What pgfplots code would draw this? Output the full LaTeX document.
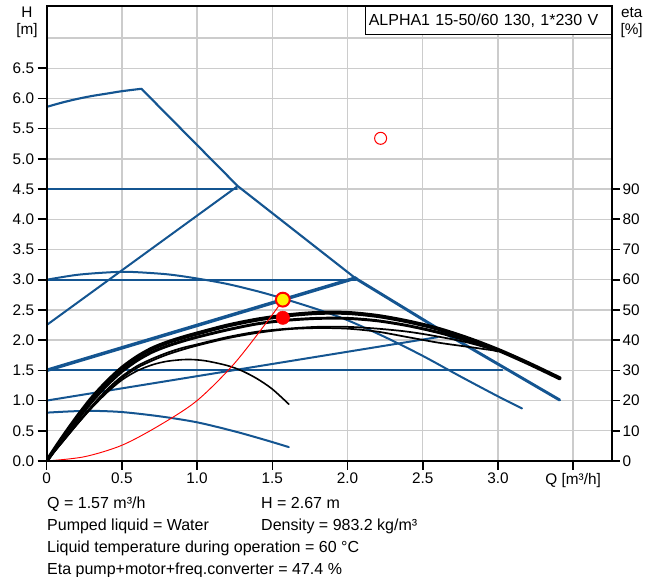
\documentclass[border=0pt]{standalone}
\usepackage{fontspec}
\setmainfont{Liberation Sans}
\usepackage{pgfplots}
\pgfplotsset{compat=1.18}
\definecolor{gfblue}{RGB}{20,85,145}

\begin{document}
\begin{tikzpicture}
\path[use as bounding box] (-35pt,-87pt) rectangle (455.5pt,345.75pt);
\begin{axis}[
  name=main, at={(0pt,0pt)}, anchor=south west,
  scale only axis, width=423.75pt, height=341.25pt,
  xmin=0, xmax=3.756, ymin=0, ymax=7.53,
  xtick={0,0.5,1,1.5,2,2.5,3,3.5},
  xticklabels={0,0.5,1.0,1.5,2.0,2.5,3.0,{Q [m³/h]}},
  ytick={0,0.5,1,1.5,2,2.5,3,3.5,4,4.5,5,5.5,6,6.5},
  yticklabels={0.0,0.5,1.0,1.5,2.0,2.5,3.0,3.5,4.0,4.5,5.0,5.5,6.0,6.5},
  extra y ticks={7}, extra y tick labels={},
  extra y tick style={major tick length=0pt},
  xtick pos=left, ytick pos=left, tick align=outside,
  major tick length=6.75pt,
  grid=major, major grid style={line width=1pt, color=gray!40},
  axis line style={line width=1.5pt},
  every tick/.style={black, line width=1.2pt},
  tick label style={font=\fontsize{11.5}{13}\selectfont},
  yticklabel style={inner xsep=2.5pt},
  xticklabel style={inner ysep=2pt},
  every axis plot/.append style={line join=round, line cap=round},
]
% blue: max curve
\addplot[gfblue, line width=1.6pt, smooth] coordinates {(0,5.86) (0.1,5.93) (0.2,5.99) (0.3,6.04) (0.4,6.08) (0.5,6.12) (0.63,6.16)};
\addplot[gfblue, line width=1.6pt] coordinates {(0.63,6.16) (1.27,4.55) (2.055,3.02)};
\addplot[gfblue, line width=2.2pt] coordinates {(2.055,3.02) (2.7,2.04) (3.41,1.01)};
% blue: constant pressure and proportional pressure lines
\addplot[gfblue, line width=1.5pt] coordinates {(0,4.5) (1.265,4.5)};
\addplot[gfblue, line width=1.5pt] coordinates {(0,2.25) (1.265,4.54)};
\addplot[gfblue, line width=1.5pt] coordinates {(0,3.0) (2.055,3.0)};
\addplot[gfblue, line width=2.6pt] coordinates {(0,1.5) (2.055,3.03)};
\addplot[gfblue, line width=1.5pt] coordinates {(0,1.5) (3.03,1.5)};
\addplot[gfblue, line width=1.5pt] coordinates {(0,1.0) (2.6,2.05)};
% blue: speed curves
\addplot[gfblue, line width=1.5pt, smooth] coordinates {(0,3.0) (0.2,3.08) (0.4,3.12) (0.55,3.13) (0.8,3.09) (1.0,3.02) (1.2,2.93) (1.4,2.81) (1.57,2.69) (1.8,2.51) (2.0,2.33) (2.25,2.05) (2.5,1.74) (2.75,1.40) (3.0,1.07) (3.16,0.87)};
\addplot[gfblue, line width=1.5pt, smooth] coordinates {(0,0.80) (0.15,0.82) (0.3,0.83) (0.5,0.81) (0.75,0.74) (1.0,0.64) (1.25,0.49) (1.45,0.35) (1.61,0.23)};
% black: eta curves (right axis, 20 %/m)
\addplot[black, line width=1.2pt, smooth] coordinates {(0,0) (0.1,0.30) (0.2,0.60) (0.3,0.88) (0.4,1.13) (0.5,1.34) (0.6,1.49) (0.7,1.59) (0.8,1.65) (0.93,1.68) (1.05,1.66) (1.2,1.58) (1.3,1.49) (1.4,1.36) (1.5,1.19) (1.61,0.94)};
\addplot[black, line width=1.3pt, smooth] coordinates {(0,0) (0.1,0.30) (0.2,0.60) (0.3,0.89) (0.4,1.15) (0.5,1.37) (0.6,1.54) (0.7,1.66) (0.8,1.76) (0.9,1.84) (1.0,1.91) (1.2,2.03) (1.4,2.12) (1.6,2.18) (1.8,2.20) (2.0,2.19) (2.2,2.14) (2.4,2.05) (2.6,1.96) (2.8,1.89) (3.0,1.82)};
\addplot[black, line width=1.3pt, smooth] coordinates {(0,0) (0.1,0.31) (0.2,0.62) (0.3,0.91) (0.4,1.18) (0.5,1.40) (0.6,1.57) (0.7,1.69) (0.8,1.79) (0.9,1.87) (1.0,1.93) (1.2,2.05) (1.4,2.14) (1.6,2.19) (1.8,2.22) (2.0,2.22) (2.2,2.19) (2.4,2.14) (2.6,2.06) (2.8,1.96) (3.0,1.82)};
\addplot[black, line width=2.2pt, smooth] coordinates {(0,0) (0.1,0.34) (0.2,0.67) (0.3,0.98) (0.4,1.25) (0.5,1.48) (0.6,1.66) (0.7,1.80) (0.8,1.90) (0.9,1.98) (1.0,2.05) (1.2,2.17) (1.4,2.27) (1.6,2.33) (1.8,2.36) (2.0,2.36) (2.2,2.32) (2.4,2.24) (2.6,2.13) (2.8,1.99) (3.0,1.82)};
\addplot[black, line width=3pt, smooth] coordinates {(0,0) (0.1,0.37) (0.2,0.72) (0.3,1.04) (0.4,1.31) (0.5,1.54) (0.6,1.72) (0.7,1.86) (0.8,1.96) (0.9,2.04) (1.0,2.11) (1.2,2.24) (1.4,2.34) (1.6,2.41) (1.8,2.45) (2.0,2.45) (2.2,2.40) (2.4,2.31) (2.6,2.19) (2.8,2.03) (3.0,1.84) (3.2,1.62) (3.41,1.37)};
% red: system curve and duty point
\addplot[red, line width=0.7pt, smooth] coordinates {(0,0) (0.25,0.07) (0.5,0.26) (0.75,0.59) (1.0,1.00) (1.25,1.62) (1.5,2.42) (1.57,2.67)};
\addplot[only marks, mark=*, mark size=5pt, color=red] coordinates {(1.57,2.37)};
\addplot[only marks, mark=*, mark size=5.2pt, draw=red, fill=yellow, line width=1.5pt] coordinates {(1.57,2.67)};
\addplot[only marks, mark=o, mark size=4.5pt, red, line width=0.75pt] coordinates {(2.22,5.34)};
\end{axis}

\node[anchor=north east, draw=black, line width=0.75pt, fill=white,
  minimum height=21.2pt, text width=179.1pt, inner xsep=2.7pt, inner ysep=0pt,
  align=left, font=\fontsize{12}{14}\selectfont] at (main.north east) {ALPHA1 15-50/60 130, 1*230 V};

\begin{axis}[
  at={(0pt,0pt)}, anchor=south west,
  scale only axis, width=423.75pt, height=341.25pt,
  xmin=0, xmax=3.756, ymin=0, ymax=150.6,
  axis x line=none, axis y line*=right,
  ytick={0,10,20,30,40,50,60,70,80,90},
  yticklabels={0,10,20,30,40,50,60,70,80,90},
  tick align=outside, major tick length=6pt,
  axis line style={line width=1.5pt},
  every tick/.style={black, line width=1.2pt},
  tick label style={font=\fontsize{11.5}{13}\selectfont},
  yticklabel style={inner xsep=2pt},
]
\addplot[draw=none] coordinates {(0,0)};
\end{axis}
\draw[line width=1.5pt] (main.south west) rectangle (main.north east);

\node[align=center, inner sep=0pt, font=\fontsize{11.5}{12.75}\selectfont]
  at ([xshift=-14.8pt, yshift=-12.4pt]main.north west) {H\\{[m]}};
\node[align=center, inner sep=0pt, font=\fontsize{11.5}{12.75}\selectfont]
  at ([xshift=15pt, yshift=-12.4pt]main.north east) {eta\\{[\%]}};

\begin{scope}[every node/.style={anchor=base west, inner sep=0pt, font=\fontsize{12}{14}\selectfont}]
\node at ([xshift=0.2pt, yshift=-35.8pt]main.south west) {Q = 1.57 m³/h};
\node at ([xshift=160.7pt, yshift=-35.8pt]main.south west) {H = 2.67 m};
\node at ([xshift=0.2pt, yshift=-52.5pt]main.south west) {Pumped liquid = Water};
\node at ([xshift=160.7pt, yshift=-52.5pt]main.south west) {Density = 983.2 kg/m³};
\node at ([xshift=0.2pt, yshift=-69pt]main.south west) {Liquid temperature during operation = 60 °C};
\node at ([xshift=0.2pt, yshift=-84.8pt]main.south west) {Eta pump+motor+freq.converter = 47.4 \%};
\end{scope}
\end{tikzpicture}
\end{document}
